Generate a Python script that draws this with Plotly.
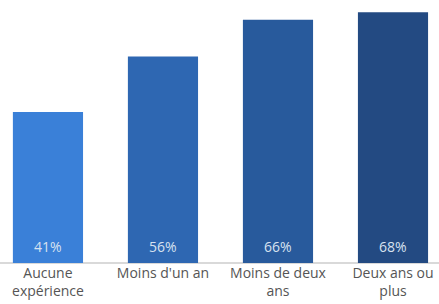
import plotly.graph_objects as go

categories = ["Aucune<br>expérience", "Moins d'un an", "Moins de deux<br>ans", "Deux ans ou<br>plus"]
values = [41, 56, 66, 68]
labels = ["41%", "56%", "66%", "68%"]
colors = ["#3A80D8", "#2E67B2", "#285A9C", "#234A82"]

xs = list(range(len(categories)))
FONT = "Open Sans, Lato, sans-serif"

fig = go.Figure(go.Bar(
    x=xs,
    y=values,
    marker=dict(color=colors, line=dict(width=0)),
    width=0.61,
    hoverinfo="skip",
))

for x, lab in zip(xs, labels):
    fig.add_annotation(
        x=x, y=0, text=lab, showarrow=False,
        xanchor="center", yanchor="bottom", yshift=5,
        font=dict(color="#D8E2F0", size=14, family=FONT),
    )

fig.update_layout(
    width=439, height=304,
    margin=dict(l=0, r=0, t=5, b=41, autoexpand=False),
    paper_bgcolor="white", plot_bgcolor="white",
    showlegend=False,
    xaxis=dict(
        tickmode="array",
        tickvals=xs,
        ticktext=categories,
        range=[-0.417, 3.400],
        showgrid=False, zeroline=False,
        showline=False,
        automargin=False,
        tickfont=dict(color="#555555", size=14, family=FONT),
        ticks="", ticklen=0,
    ),
    yaxis=dict(
        range=[0, 70],
        showticklabels=False, ticks="",
        showgrid=False, showline=False,
        automargin=False,
        zeroline=True, zerolinecolor="#D9D9D9", zerolinewidth=1.5,
    ),
)

fig.write_html(
    "out.html",
    config={"displayModeBar": False, "staticPlot": True},
    post_script="document.body.style.margin='0';document.body.style.overflow='hidden';",
)
